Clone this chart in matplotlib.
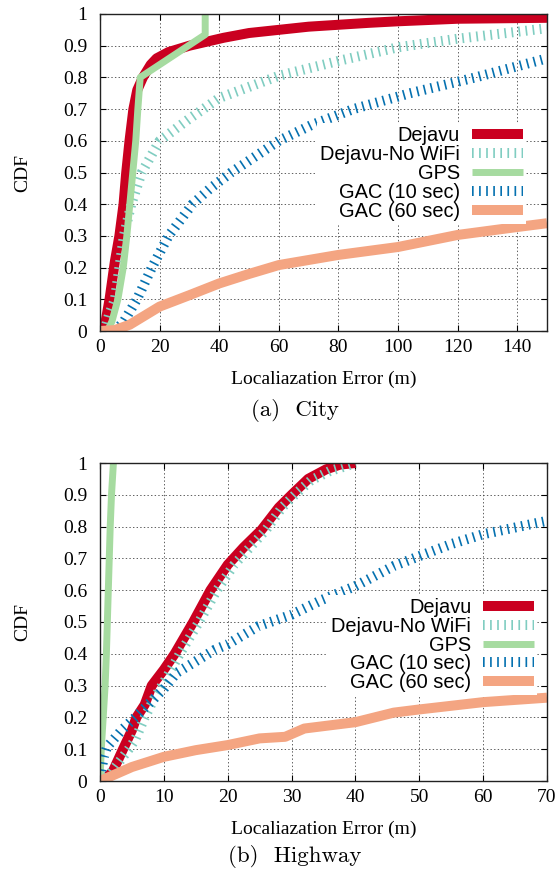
import matplotlib
matplotlib.use('Agg')
import matplotlib.pyplot as plt
from matplotlib.ticker import FuncFormatter
from matplotlib.font_manager import FontProperties

plt.rcParams['lines.scale_dashes'] = False

# ---------------- data ----------------
series_labels = ['Dejavu', 'Dejavu-No WiFi', 'GPS', 'GAC (10 sec)', 'GAC (60 sec)']
colors = ['#ca0020', '#80cdc1', '#a6dba0', '#0571b0', '#f4a582']

# City
city_dejavu_x = [0, 1.7, 3.2, 5.0, 6.5, 7.9, 8.8, 9.9, 11.2, 12.5, 14.4, 17, 19, 23, 30, 41.5, 50, 60, 70, 80, 90, 100, 120, 150]
city_dejavu_y = [0, 0.02, 0.1, 0.22, 0.3, 0.4, 0.5, 0.6, 0.7, 0.76, 0.8, 0.84, 0.86, 0.88, 0.9, 0.925, 0.94, 0.95, 0.96, 0.966, 0.972, 0.977, 0.985, 0.988]
city_nowifi_x = [1.5, 3, 5, 6.5, 8, 10.5, 14, 20, 30, 40, 60, 80, 100, 120, 150]
city_nowifi_y = [0, 0.05, 0.1, 0.2, 0.3, 0.4, 0.5, 0.6, 0.67, 0.735, 0.805, 0.852, 0.895, 0.922, 0.955]
city_gps_x = [2.5, 4, 6, 7.8, 9, 10, 11, 12, 12.7, 13.5, 35.3, 35.3]
city_gps_y = [0, 0.03, 0.1, 0.2, 0.3, 0.4, 0.5, 0.6, 0.7, 0.8, 0.935, 1.0]
city_gac10_x = [5, 8, 12.4, 17.4, 23, 31, 37, 44, 52, 60, 71, 85, 104, 126, 146, 150]
city_gac10_y = [0, 0.03, 0.1, 0.2, 0.3, 0.4, 0.45, 0.5, 0.55, 0.6, 0.65, 0.7, 0.75, 0.8, 0.85, 0.86]
city_gac60_x = [0, 5, 10, 20, 30, 40, 50, 60, 80, 100, 120, 140, 150]
city_gac60_y = [0, 0.003, 0.02, 0.077, 0.113, 0.15, 0.18, 0.208, 0.24, 0.265, 0.303, 0.328, 0.34]

# Highway
hw_dejavu_x = [0.5, 2, 3.6, 5, 5.7, 7, 8.1, 10, 11.7, 14.6, 17.3, 20, 22.5, 25.3, 28, 30, 32.6, 35.4, 37.6, 40]
hw_dejavu_y = [0, 0.03, 0.1, 0.16, 0.2, 0.24, 0.3, 0.35, 0.4, 0.5, 0.6, 0.68, 0.735, 0.79, 0.86, 0.9, 0.95, 0.98, 0.995, 1.0]
hw_nowifi_x = [0, 1.5, 3, 4.5, 5.5, 7, 8.5, 10, 12.5, 15.5, 18.3, 21, 23.5, 26, 28.5, 30.5, 33, 36, 38.5, 40]
hw_nowifi_y = [0, 0.02, 0.06, 0.1, 0.13, 0.2, 0.26, 0.31, 0.4, 0.5, 0.6, 0.68, 0.735, 0.79, 0.86, 0.9, 0.945, 0.975, 0.99, 1.0]
hw_gps_x = [0, 0.2, 0.5, 0.8, 1.0, 1.3, 1.6, 1.8, 2.1]
hw_gps_y = [0, 0.1, 0.2, 0.3, 0.4, 0.6, 0.8, 0.9, 1.0]
hw_gac10_x = [0, 0.6, 1.1, 3.4, 5.5, 10, 12, 18, 20, 24.7, 30, 34.8, 40, 46, 50, 55, 60, 65.7, 70]
hw_gac10_y = [0.01, 0.076, 0.107, 0.16, 0.2, 0.29, 0.34, 0.413, 0.43, 0.486, 0.523, 0.57, 0.613, 0.676, 0.707, 0.745, 0.776, 0.8, 0.818]
hw_gac60_x = [0, 5, 10, 15, 20, 25, 29, 32, 40, 46, 50, 60, 70]
hw_gac60_y = [0, 0.044, 0.076, 0.097, 0.113, 0.134, 0.139, 0.165, 0.185, 0.215, 0.225, 0.248, 0.262]

city_x_ticks = [0, 20, 40, 60, 80, 100, 120, 140]
hw_x_ticks = [0, 10, 20, 30, 40, 50, 60, 70]
y_ticks = [0, 0.1, 0.2, 0.3, 0.4, 0.5, 0.6, 0.7, 0.8, 0.9, 1.0]

# ---------------- style ----------------
widths = [7.2, 7.2, 5.0, 7.2, 7.2]
dashed = [False, True, False, True, False]
serif = 'Liberation Serif'
sans = 'Liberation Sans'

fig = plt.figure(figsize=(5.6, 8.77), dpi=100)
ax1 = fig.add_axes([100/560, 1-331/877, 447/560, 317/877])
ax2 = fig.add_axes([100/560, 1-781/877, 447/560, 318/877])


def draw(ax, data, xmax, xticks, leg_anchor):
    for (x, y), lab, c, w, d in zip(data, series_labels, colors, widths, dashed):
        ln, = ax.plot(x, y, color=c, lw=w, label=lab, solid_capstyle='butt',
                      solid_joinstyle='round', dash_capstyle='butt')
        if d:
            ln.set_dashes((1.2, 3.9))
    ax.set_xlim(0, xmax)
    ax.set_ylim(0, 1)
    ax.set_xticks(xticks)
    ax.set_yticks(y_ticks)
    ax.yaxis.set_major_formatter(FuncFormatter(lambda v, p: '%g' % v))
    ax.set_axisbelow(True)
    ax.grid(True, color='#444444', lw=0.6, linestyle=(0, (1, 1.6)))
    ax.tick_params(direction='in', length=4, width=0.8, top=True, right=True,
                   labelsize=14)
    ax.tick_params(axis='x', pad=5.5)
    ax.tick_params(axis='y', pad=9)
    for lbl in ax.get_xticklabels() + ax.get_yticklabels():
        lbl.set_fontfamily(serif)
    for s in ax.spines.values():
        s.set_linewidth(1.0)
        s.set_color('#222222')
    ax.set_xlabel('Localiazation Error (m)', fontfamily=serif, fontsize=14)
    ax.set_ylabel('CDF', fontfamily=serif, fontsize=14)
    ax.xaxis.set_label_coords(0.5, -0.125)
    ax.yaxis.set_label_coords(-0.154, 0.5)
    leg = ax.legend(loc='upper right', bbox_to_anchor=leg_anchor, borderaxespad=0,
                    markerfirst=False, frameon=True, fancybox=False,
                    edgecolor='none', facecolor='white', framealpha=1,
                    handlelength=2.55, handletextpad=0.6, labelspacing=-0.01,
                    borderpad=0.15, prop=FontProperties(family=sans, size=14.4))
    leg.get_frame().set_linewidth(0)


draw(ax1, [(city_dejavu_x, city_dejavu_y), (city_nowifi_x, city_nowifi_y),
           (city_gps_x, city_gps_y), (city_gac10_x, city_gac10_y),
           (city_gac60_x, city_gac60_y)], 150, city_x_ticks, (0.953, 0.655))
draw(ax2, [(hw_dejavu_x, hw_dejavu_y), (hw_nowifi_x, hw_nowifi_y),
           (hw_gps_x, hw_gps_y), (hw_gac10_x, hw_gac10_y),
           (hw_gac60_x, hw_gac60_y)], 70, hw_x_ticks, (0.978, 0.585))

fig.text(295/560, 1-411/877, '(a)  City', ha='center', va='center',
         fontfamily='cmr10', fontsize=16.5)
fig.text(295/560, 1-857/877, '(b)  Highway', ha='center', va='center',
         fontfamily='cmr10', fontsize=16.5)

fig.savefig('out.png', dpi=100)
